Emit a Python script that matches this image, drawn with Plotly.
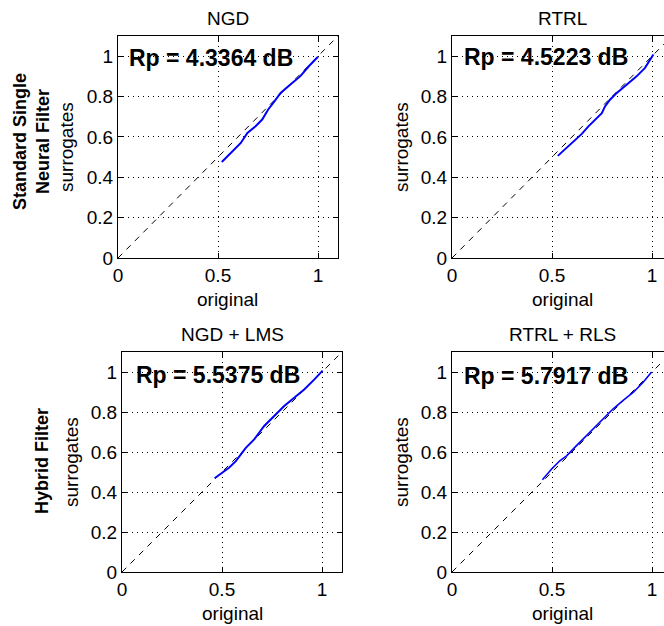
import plotly.graph_objects as go

W, H = 680, 626   # page is 664 wide; the right-hand axes box runs past the edge like the reference

# ---- data ----
titles = ["NGD", "RTRL", "NGD + LMS", "RTRL + RLS"]
rp_labels = ["Rp = 4.3364 dB", "Rp = 4.5223 dB", "Rp = 5.5375 dB", "Rp = 5.7917 dB"]
row_labels = ["Standard Single<br>Neural Filter", "Hybrid Filter"]

ngd_x = [0.519, 0.580, 0.614, 0.647, 0.688, 0.721, 0.751, 0.783, 0.813, 0.862, 0.912, 0.954, 1.000]
ngd_y = [0.476, 0.534, 0.570, 0.620, 0.653, 0.686, 0.736, 0.777, 0.818, 0.860, 0.901, 0.950, 0.997]

rtrl_x = [0.529, 0.582, 0.624, 0.649, 0.682, 0.724, 0.749, 0.765, 0.790, 0.824, 0.874, 0.923, 0.965, 1.007]
rtrl_y = [0.506, 0.556, 0.594, 0.615, 0.652, 0.693, 0.718, 0.751, 0.784, 0.818, 0.859, 0.900, 0.942, 1.008]

ngdlms_x = [0.463, 0.502, 0.535, 0.569, 0.619, 0.661, 0.711, 0.761, 0.811, 0.861, 0.911, 0.962, 1.003]
ngdlms_y = [0.469, 0.496, 0.521, 0.554, 0.621, 0.663, 0.730, 0.780, 0.830, 0.871, 0.913, 0.963, 1.007]

rtrlrls_x = [0.452, 0.497, 0.539, 0.573, 0.614, 0.664, 0.715, 0.765, 0.806, 0.856, 0.907, 0.957, 0.998]
rtrlrls_y = [0.461, 0.514, 0.556, 0.581, 0.623, 0.673, 0.724, 0.774, 0.816, 0.858, 0.899, 0.950, 1.000]

diag = [0, 1.2]
x_ticks = [0, 0.5, 1]
x_ticktext = ["0", "0.5", "1"]
y_ticks = [0, 0.2, 0.4, 0.6, 0.8, 1]
y_ticktext = ["0", "0.2", "0.4", "0.6", "0.8", "1"]

series = [(ngd_x, ngd_y), (rtrl_x, rtrl_y), (ngdlms_x, ngdlms_y), (rtrlrls_x, rtrlrls_y)]

# ---- layout geometry (screen pixels) ----
boxes = [
    (118, 338, 36, 258),
    (452, 672, 36, 258),
    (122, 342, 352, 572),
    (452, 672, 352, 572),
]
rp_pos = [(127, 58), (462, 57), (134, 375), (462, 376)]
ylab_x = [66, 401, 71, 401]

FONT = "Liberation Sans, Arial, Helvetica, sans-serif"
fig = go.Figure()

def px(x):
    return x / W

def py(y):
    return 1 - y / H

for i, ((l, r, t, b), (sx, sy)) in enumerate(zip(boxes, series)):
    n = "" if i == 0 else str(i + 1)
    xa, ya = "x" + n, "y" + n
    fig.add_trace(go.Scatter(x=diag, y=diag, mode="lines", xaxis=xa, yaxis=ya,
                             line=dict(color="black", width=1, dash="6px,6px"),
                             showlegend=False, hoverinfo="skip"))
    fig.add_trace(go.Scatter(x=sx, y=sy, mode="lines", xaxis=xa, yaxis=ya,
                             line=dict(color="#0000ff", width=2 if i < 3 else 1.6),
                             showlegend=False))
    common = dict(showline=True, linecolor="black", linewidth=1, ticks="inside", ticklen=5,
                  tickcolor="black", showgrid=True, gridcolor="black", griddash="1px,4px",
                  gridwidth=1, zeroline=False, mirror="ticks",
                  tickfont=dict(family=FONT, size=19, color="black"))
    fig.layout["xaxis" + n] = dict(domain=[px(l), px(r)], range=[0, 1.1], anchor=ya,
                                   tickvals=x_ticks, ticktext=x_ticktext, **common)
    fig.layout["yaxis" + n] = dict(domain=[py(b), py(t)], range=[0, 1.1], anchor=xa,
                                   tickvals=y_ticks, ticktext=y_ticktext, **common)
    cx = (l + r) / 2
    fig.add_annotation(x=px(cx), y=py(t - 18), xref="paper", yref="paper",
                       text=titles[i], showarrow=False, xanchor="center", yanchor="middle",
                       font=dict(family=FONT, size=19, color="black"))
    fig.add_annotation(x=px(cx), y=py(b + 41), xref="paper", yref="paper",
                       text="original", showarrow=False, xanchor="center", yanchor="middle",
                       font=dict(family=FONT, size=19, color="black"))
    fig.add_annotation(x=px(ylab_x[i]), y=py((t + b) / 2), xref="paper", yref="paper",
                       text="surrogates", showarrow=False, textangle=-90,
                       xanchor="center", yanchor="middle",
                       font=dict(family=FONT, size=19, color="black"))
    fig.add_annotation(x=px(rp_pos[i][0]), y=py(rp_pos[i][1]), xref="paper", yref="paper",
                       text="<b>" + rp_labels[i] + "</b>", showarrow=False,
                       xanchor="left", yanchor="middle",
                       font=dict(family=FONT, size=23, color="black"))

fig.add_annotation(x=px(32), y=py(142), xref="paper", yref="paper",
                   text="<b>" + row_labels[0] + "</b>", showarrow=False, textangle=-90,
                   xanchor="center", yanchor="middle",
                   font=dict(family=FONT, size=18, color="black"))
fig.add_annotation(x=px(42), y=py(461), xref="paper", yref="paper",
                   text="<b>" + row_labels[1] + "</b>", showarrow=False, textangle=-90,
                   xanchor="center", yanchor="middle",
                   font=dict(family=FONT, size=18, color="black"))

fig.update_layout(width=W, height=H, margin=dict(l=0, r=0, t=0, b=0, autoexpand=False),
                  paper_bgcolor="white", plot_bgcolor="white",
                  font=dict(family=FONT, size=19, color="black"))

fig.write_html("out.html",
               config={"displayModeBar": False},
               post_script="document.body.style.margin='0';"
                           "document.body.style.overflow='hidden';"
                           "document.documentElement.style.overflow='hidden';")
